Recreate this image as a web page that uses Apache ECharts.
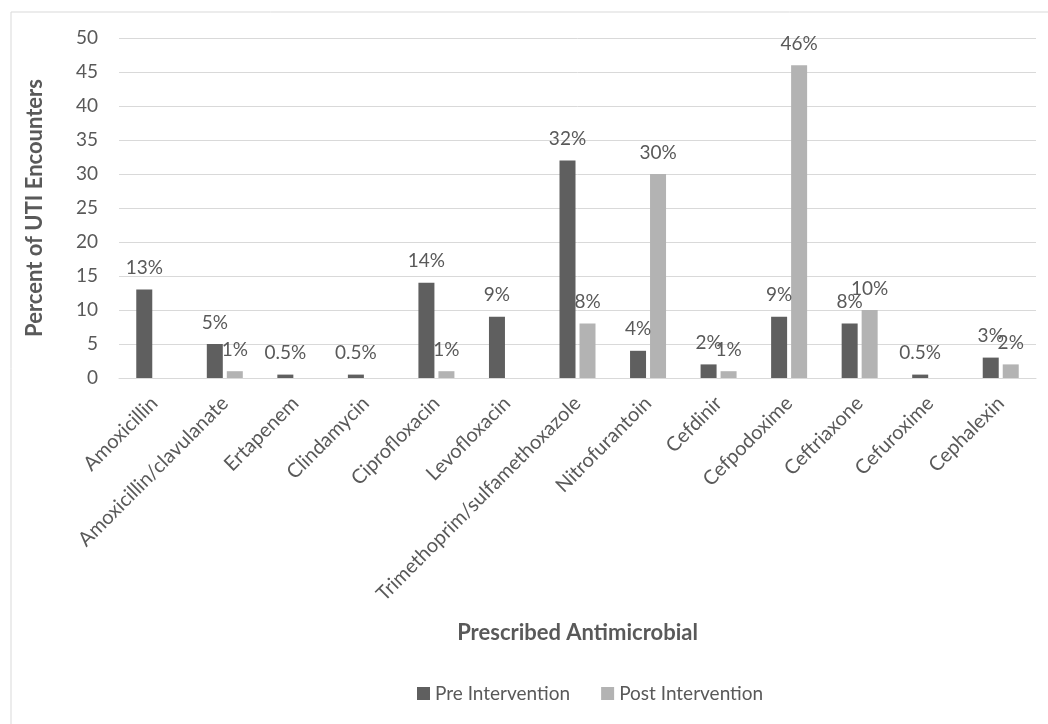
<!DOCTYPE html>
<html>
<head>
<meta charset="utf-8">
<script src="https://cdn.jsdelivr.net/npm/echarts@6/dist/echarts.min.js"></script>
<style>
  html, body { margin: 0; padding: 0; background: #fff; }
  #chart { width: 1048px; height: 724px; }
</style>
</head>
<body>
<div id="chart"></div>
<script>
// 抗菌药物名称
var drugs = ['Amoxicillin', 'Amoxicillin/clavulanate', 'Ertapenem', 'Clindamycin', 'Ciprofloxacin',
  'Levofloxacin', 'Trimethoprim/sulfamethoxazole', 'Nitrofurantoin', 'Cefdinir', 'Cefpodoxime',
  'Ceftriaxone', 'Cefuroxime', 'Cephalexin'];
// 干预前 / 干预后 (%)
var preValues = [13, 5, 0.5, 0.5, 14, 9, 32, 4, 2, 9, 8, 0.5, 3];
var postValues = [0, 1, 0, 0, 1, 0, 8, 30, 1, 46, 10, 0, 2];
var seriesNames = ['Pre Intervention', 'Post Intervention'];

var textColor = '#595959';
var font = 'Lato, "Open Sans", sans-serif';

var Chart = echarts.init(document.getElementById('chart'));

function pctLabel(p) {
  return p.value ? p.value + '%' : '';
}

var option = {
  backgroundColor: '#fff',
  textStyle: { fontFamily: font },
  animation: false,
  graphic: [{
    type: 'rect',
    shape: { x: 11, y: 12, width: 1100, height: 800 },
    style: { fill: 'none', stroke: '#d9d9d9', lineWidth: 1 },
    silent: true
  }],
  grid: { left: 119, right: 12, top: 38, bottom: 346 },
  legend: {
    data: seriesNames,
    left: 412,
    top: 679,
    itemWidth: 13,
    itemHeight: 13,
    itemGap: 31,
    icon: 'rect',
    textStyle: { color: textColor, fontSize: 19, fontFamily: font }
  },
  xAxis: {
    type: 'category',
    data: drugs,
    name: 'Prescribed Antimicrobial',
    nameLocation: 'middle',
    nameGap: 244,
    nameTextStyle: { color: textColor, fontSize: 22, fontWeight: 'bold', fontFamily: font },
    axisLine: { lineStyle: { color: '#d9d9d9', width: 1 } },
    axisTick: { show: false },
    axisLabel: { interval: 0, rotate: 45, margin: 22, color: textColor, fontSize: 20, fontFamily: font }
  },
  yAxis: {
    type: 'value',
    min: 0,
    max: 50,
    interval: 5,
    name: 'Percent of UTI Encounters',
    nameLocation: 'middle',
    nameGap: 73,
    nameTextStyle: { color: textColor, fontSize: 22, fontWeight: 'bold', fontFamily: font },
    axisLine: { show: false },
    axisTick: { show: false },
    axisLabel: { margin: 21, color: textColor, fontSize: 19, fontFamily: font },
    splitLine: { lineStyle: { color: '#d9d9d9', width: 1 } }
  },
  series: [{
    name: seriesNames[0],
    type: 'bar',
    data: preValues,
    barWidth: 16,
    barGap: '25%',
    itemStyle: { color: '#5f5f5f' },
    label: { show: true, position: 'top', distance: 12, color: textColor, fontSize: 19, fontFamily: font, formatter: pctLabel }
  }, {
    name: seriesNames[1],
    type: 'bar',
    data: postValues,
    barWidth: 16,
    itemStyle: { color: '#b3b3b3' },
    label: { show: true, position: 'top', distance: 12, color: textColor, fontSize: 19, fontFamily: font, formatter: pctLabel }
  }]
};

Chart.setOption(option);
</script>
</body>
</html>
